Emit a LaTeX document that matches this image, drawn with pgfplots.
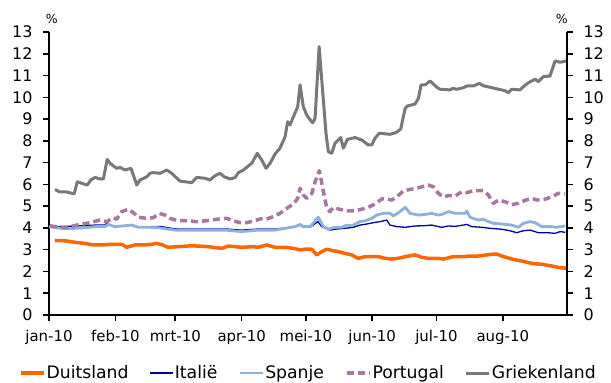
\documentclass[border=0pt]{standalone}
\usepackage{fontspec}
\setmainfont{DejaVu Sans}
\usepackage{pgfplots}
\pgfplotsset{compat=1.18}
\definecolor{cDE}{HTML}{FF6600}
\definecolor{cIT}{HTML}{000099}
\definecolor{cES}{HTML}{8DB1DA}
\definecolor{cPT}{HTML}{A7789F}
\definecolor{cGR}{HTML}{787878}
\begin{document}
\begin{tikzpicture}
\pgfplotsset{
  base/.style={
    scale only axis, width=518bp, height=283bp,
    xmin=0, xmax=242, ymin=0, ymax=13,
    ytick={0,1,...,13},
    tick align=outside, major tick length=6bp,
    axis line style={line width=1.6bp, black},
    every tick/.style={black, line width=1.6bp},
    /pgf/number format/assume math mode=true,
    y tick label style={font=\fontsize{16}{19}\selectfont},
  }
}
\begin{axis}[base,
  axis x line*=bottom, axis y line*=left,
  xtick pos=bottom, ytick pos=left,
  xtick={0,31,59,90,120,151,181,212},
  xticklabels={jan-10,feb-10,mrt-10,apr-10,mei-10,jun-10,jul-10,aug-10},
  x tick label style={font=\fontsize{15}{18}\selectfont, yshift=-6bp},
  y tick label style={xshift=-7bp},
  legend columns=5,
  legend image code/.code={\draw[#1] (0bp,0bp) -- (23bp,0bp);},
  legend style={draw=none, fill=none, at={(0.5,-0.205)}, anchor=center,
    font=\fontsize{17.3}{20}\selectfont,
    nodes={inner sep=1bp},
    /tikz/every even column/.append style={column sep=20bp}},
  line join=round,
]
\coordinate (SW) at (rel axis cs:0,0);
\coordinate (NE) at (rel axis cs:1,1);
\coordinate (NW) at (rel axis cs:0,1);
\addplot[cDE, line width=3.5bp] coordinates {
(2.8,3.42)(7.5,3.41)(12.1,3.34)(16.8,3.29)(20.7,3.22)(25.0,3.22)(29.3,3.25)(34.0,3.25)
(36.3,3.11)(40.2,3.22)(45.0,3.22)(48.0,3.25)(50.3,3.29)(53.0,3.22)(55.7,3.11)(60.4,3.14)
(66.7,3.18)(74.4,3.14)(80.7,3.06)(83.8,3.17)(90.0,3.11)(95.5,3.14)(97.8,3.11)(101.7,3.22)
(105.6,3.11)(110.3,3.11)(114.2,3.06)(117.3,2.99)(120.4,3.03)(122.8,3.02)(125.1,2.76)
(127.4,2.91)(129.8,3.02)(132.9,2.95)(135.2,2.91)(138.3,2.83)(141.4,2.76)(144.5,2.60)
(147.7,2.68)(150.8,2.68)(154.0,2.68)(157.0,2.60)(160.1,2.57)(163.0,2.60)(166.4,2.68)
(171.0,2.76)(174.2,2.65)(177.2,2.60)(181.9,2.60)(184.3,2.57)(188.9,2.68)(194.4,2.68)
(195.9,2.71)(200.6,2.71)(206.9,2.79)(209.2,2.80)(211.5,2.71)(216.2,2.57)(220.9,2.48)
(225.6,2.37)(230.2,2.33)(234.9,2.25)(238.8,2.17)(241.9,2.15)
};
\addlegendentry{Duitsland}
\addplot[cIT, line width=1.3bp] coordinates {
(0,4.13)(4.3,4.06)(15.3,4.10)(21.5,4.13)(26.2,4.13)(27.0,4.21)(29.3,4.10)(34.0,4.09)
(38.6,4.13)(42.5,4.03)(48.0,4.06)(52.7,4.06)(57.3,3.98)(60.4,3.95)(66.7,3.95)(75.2,3.95)
(83.0,3.95)(90.0,3.90)(97.8,3.95)(105.6,3.95)(111.8,4.01)(115.0,4.06)(117.3,4.13)
(118.8,4.03)(122.0,4.03)(125.6,4.29)(127.4,4.06)(131.3,3.90)(134.4,3.95)(138.3,3.98)
(142.2,4.03)(145.3,4.13)(148.5,4.18)(151.5,4.24)(154.7,4.29)(157.8,4.36)(159.3,4.13)
(162.5,4.06)(166.4,4.03)(171.0,4.09)(174.9,4.10)(178.8,4.13)(181.9,4.06)(183.5,4.03)
(186.6,4.09)(189.7,4.07)(195.2,4.16)(197.5,4.06)(202.2,4.03)(206.1,3.98)(211.5,3.94)
(215.4,3.87)(218.5,3.78)(221.6,3.87)(224.8,3.90)(228.6,3.78)(233.0,3.78)(236.4,3.75)
(238.8,3.83)(241.1,3.80)
};
\addlegendentry{Italië}
\addplot[cES, line width=2.8bp] coordinates {
(0,4.06)(5.9,3.98)(12.1,3.98)(16.8,4.01)(21.5,4.06)(26.2,4.06)(27.7,4.16)(30.8,4.06)
(35.5,4.10)(38.6,4.13)(41.7,4.03)(46.4,4.03)(51.1,4.01)(55.7,3.94)(58.9,3.90)(66.7,3.90)
(74.4,3.90)(82.2,3.90)(90.0,3.83)(97.8,3.90)(105.6,3.90)(110.3,3.98)(115.0,4.06)
(117.3,4.16)(118.8,4.06)(122.0,4.06)(125.8,4.49)(128.2,4.06)(130.5,3.95)(133.6,4.03)
(136.8,4.03)(139.1,4.13)(141.4,4.10)(145.3,4.29)(147.7,4.33)(150.8,4.44)(153.1,4.59)
(156.2,4.67)(159.3,4.67)(160.9,4.55)(164.0,4.75)(166.4,4.95)(168.7,4.67)(172.6,4.59)
(175.7,4.62)(178.8,4.67)(181.9,4.59)(183.5,4.62)(186.6,4.75)(189.7,4.67)(194.4,4.67)
(195.2,4.78)(196.7,4.49)(200.6,4.36)(202.9,4.40)(205.3,4.29)(207.6,4.21)(211.5,4.18)
(216.2,4.13)(219.3,4.03)(221.6,4.21)(224.8,4.29)(227.1,4.24)(230.2,4.06)(234.1,4.06)
(237.2,4.03)(241.1,4.09)
};
\addlegendentry{Spanje}
\addplot[cPT, line width=3.5bp, dash pattern=on 7bp off 4bp] coordinates {
(0.5,4.09)(8.3,4.01)(12.9,4.13)(19.2,4.24)(23.8,4.36)(27.0,4.29)(30.0,4.47)(31.6,4.40)
(34.0,4.75)(37.1,4.86)(39.4,4.70)(41.7,4.49)(45.7,4.44)(48.7,4.47)(51.5,4.67)(54.2,4.59)
(56.5,4.44)(60.4,4.33)(64.3,4.33)(69.0,4.29)(73.7,4.33)(78.4,4.40)(83.0,4.44)(86.1,4.33)
(89.3,4.24)(92.4,4.24)(95.5,4.32)(98.6,4.41)(101.7,4.41)(104.8,4.52)(107.9,4.67)
(111.1,4.90)(114.2,5.10)(116.2,5.36)(117.3,5.82)(118.8,5.51)(120.4,5.36)(122.8,5.59)
(124.3,6.12)(126.3,6.63)(128.2,5.66)(129.8,4.90)(131.3,4.75)(132.9,4.95)(135.2,4.87)
(137.5,4.82)(139.9,4.78)(143.0,4.79)(146.1,4.86)(149.2,4.95)(152.3,5.10)(155.5,5.33)
(157.8,5.33)(160.1,5.28)(162.5,5.43)(165.6,5.70)(168.7,5.77)(171.8,5.82)(174.2,5.89)
(177.2,5.97)(179.6,5.89)(181.9,5.59)(184.3,5.41)(186.6,5.49)(189.7,5.46)(192.8,5.66)
(195.2,5.62)(198.3,5.71)(202.9,5.72)(205.3,5.51)(207.6,5.13)(210.0,5.28)(213.1,5.20)
(216.2,5.07)(219.3,5.13)(222.4,5.27)(225.6,5.36)(227.9,5.28)(231.8,5.32)(234.9,5.43)
(238.0,5.59)(241.1,5.56)
};
\addlegendentry{Portugal}
\addplot[cGR, line width=3bp] coordinates {
(2.8,5.77)(4.8,5.66)(8.3,5.65)(10.6,5.59)(11.8,5.57)(13.2,6.12)(15.3,6.05)(17.9,5.97)
(19.5,6.20)(21.5,6.32)(23.8,6.25)(25.4,6.25)(27.2,7.15)(28.5,6.97)(31.6,6.74)(33.2,6.78)
(35.5,6.66)(38.3,6.74)(41.0,5.97)(42.5,6.20)(45.7,6.35)(47.2,6.51)(48.7,6.54)(51.9,6.51)
(55.0,6.66)(57.3,6.51)(61.2,6.15)(63.6,6.12)(66.7,6.08)(69.0,6.32)(72.9,6.28)(75.2,6.20)
(77.6,6.40)(79.9,6.51)(81.8,6.35)(84.6,6.25)(86.9,6.31)(88.5,6.54)(90.8,6.66)(94.7,6.97)
(97.3,7.43)(99.4,7.12)(101.4,6.74)(103.3,6.97)(105.6,7.40)(107.9,7.66)(110.3,8.19)
(111.5,8.88)(112.6,8.73)(114.2,9.11)(116.2,9.57)(117.3,10.57)(118.8,9.57)(120.4,9.19)
(122.0,8.96)(123.2,8.83)(124.3,9.03)(126.2,12.33)(129.4,8.35)(130.5,7.50)(132.1,7.43)
(133.6,7.89)(136.3,8.15)(137.5,7.66)(139.4,8.07)(143.0,8.15)(146.1,8.04)(149.2,7.81)
(150.8,7.81)(152.3,8.12)(154.3,8.35)(159.3,8.30)(162.1,8.38)(164.3,8.54)(166.4,9.49)
(167.4,9.60)(171.0,9.69)(172.6,9.95)(173.8,10.57)(175.7,10.57)(178.0,10.75)(181.2,10.46)
(182.7,10.37)(187.4,10.34)(188.6,10.41)(190.5,10.37)(193.6,10.44)(195.2,10.52)(198.3,10.52)
(201.1,10.64)(202.9,10.53)(206.1,10.46)(210.0,10.37)(213.1,10.30)(214.6,10.21)(216.2,10.37)
(220.1,10.34)(221.6,10.49)(224.0,10.67)(227.1,10.83)(228.6,10.72)(231.0,10.95)(234.1,10.98)
(236.4,11.67)(238.8,11.61)(241.6,11.67)
};
\addlegendentry{Griekenland}
\end{axis}
\begin{axis}[base,
  axis x line=none, axis y line*=right,
  ytick pos=right, yticklabel pos=right,
  y tick label style={xshift=7bp},
]
\end{axis}
\node[font=\fontsize{12.5}{14}\selectfont, xshift=2.7bp, yshift=13bp] at (NW) {\%};
\node[font=\fontsize{12.5}{14}\selectfont, xshift=-5.3bp, yshift=13bp] at (NE) {\%};
\path (SW) ++(-49bp,-68bp) coordinate (A);
\path (NE) ++(44bp,32bp) coordinate (B);
\pgfresetboundingbox
\path (A) rectangle (B);
\end{tikzpicture}
\end{document}
